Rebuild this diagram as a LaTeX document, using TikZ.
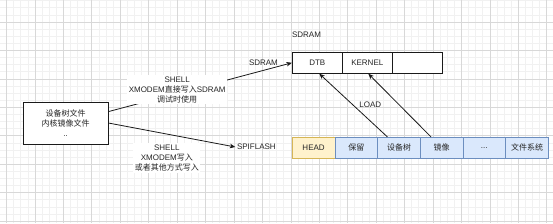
\documentclass[tikz,border=0pt]{standalone}
\usepackage{fontspec}
\setmainfont{Liberation Sans}
\newfontfamily\cjk{Noto Sans CJK SC}
\usetikzlibrary{arrows.meta}
\definecolor{txtc}{HTML}{262626}
\definecolor{linec}{HTML}{1A1A1A}
\definecolor{gridminor}{HTML}{F1F1F1}
\definecolor{gridmajor}{HTML}{D8D8D8}
\definecolor{headfill}{HTML}{FFF2CC}
\definecolor{headdraw}{HTML}{D6B656}
\definecolor{bluefill}{HTML}{DAE8FC}
\definecolor{bluedraw}{HTML}{6C8EBF}
\begin{document}
\begin{tikzpicture}[x=1pt,y=-1pt,
  font=\fontsize{8}{10}\selectfont,
  txt/.style={text=txtc, inner sep=1pt, align=center},
  srcbox/.style={draw=linec, line width=0.8pt, fill=white, minimum width=85pt, minimum height=42pt, inner sep=0pt, txt},
  memcell/.style={draw=linec, line width=0.8pt, fill=white, minimum width=50pt, minimum height=21pt, inner sep=0pt, txt},
  headcell/.style={draw=headdraw, line width=0.8pt, fill=headfill, minimum width=42.67pt, minimum height=21pt, inner sep=0pt, txt},
  flashcell/.style={draw=bluedraw, line width=0.8pt, fill=bluefill, minimum width=42.67pt, minimum height=21pt, inner sep=0pt, txt},
  conn/.style={draw=linec, line width=0.8pt, -{Stealth[length=5.5pt,width=4.5pt,inset=1.5pt]}},
  edgelabel/.style={txt, fill=white, inner sep=1.5pt}
]
\useasboundingbox (0,0) rectangle (553,223);
\begin{scope}
\clip (0,0) rectangle (553,223);
\fill[white] (0,0) rectangle (553,223);
\foreach \k in {-1,...,78} \draw[gridminor, line width=0.6pt] ({6.5+7.1075*\k},0) -- ({6.5+7.1075*\k},223);
\foreach \k in {-4,...,30} \draw[gridminor, line width=0.6pt] (0,{22+7.1075*\k}) -- (553,{22+7.1075*\k});
\foreach \k in {0,...,19} \draw[gridmajor, line width=0.6pt] ({6.5+28.43*\k},0) -- ({6.5+28.43*\k},223);
\foreach \k in {-1,...,7} \draw[gridmajor, line width=0.6pt] (0,{22+28.43*\k}) -- (553,{22+28.43*\k});
\end{scope}

% source box
\node[srcbox] (src) at (65.5,123) {{\cjk 设备树文件}\\{\cjk 内核镜像文件}\\..};

% SDRAM
\node[txt] (sdramtitle) at (306.5,34.3) {SDRAM};
\node[memcell] (dtb) at (317.3,62.8) {DTB};
\node[memcell] (kernel) at (367.3,62.8) {KERNEL};
\node[memcell] (emptyslot) at (417.3,62.8) {};

% SPI flash
\node[headcell] (head) at (313.6,147.8) {HEAD};
\node[flashcell] (rsv) at (356.3,147.8) {\cjk 保留};
\node[flashcell] (dtbf) at (399.0,147.8) {\cjk 设备树};
\node[flashcell] (img) at (441.6,147.8) {\cjk 镜像};
\node[flashcell] (dots) at (484.3,147.8) {...};
\node[flashcell] (fs) at (527.0,147.8) {\cjk 文件系统};

\node[txt, inner sep=1.5pt] (spiflash) at (256.4,147) {SPIFLASH};

% connectors
\draw[conn] (src) -- (dtb.west)
  node[txt, pos=0.845, yshift=8pt] {SDRAM}
  node[edgelabel, pos=0.375, yshift=3.7pt] {SHELL\\XMODEM{\cjk 直接写入}SDRAM\\{\cjk 调试时使用}};
\draw[conn] (src.east) -- (spiflash.west)
  node[edgelabel, pos=0.46, yshift=-24pt] {SHELL\\XMODEM{\cjk 写入}\\{\cjk 或者其他方式写入}};
\draw[conn] ([xshift=-11.6pt]dtbf.north) -- ([xshift=2pt]dtb.south)
  node[txt, pos=0.508, xshift=17.5pt] {LOAD};
\draw[conn] ([xshift=-10.6pt]img.north) -- ([xshift=1pt]kernel.south);
\end{tikzpicture}
\end{document}
